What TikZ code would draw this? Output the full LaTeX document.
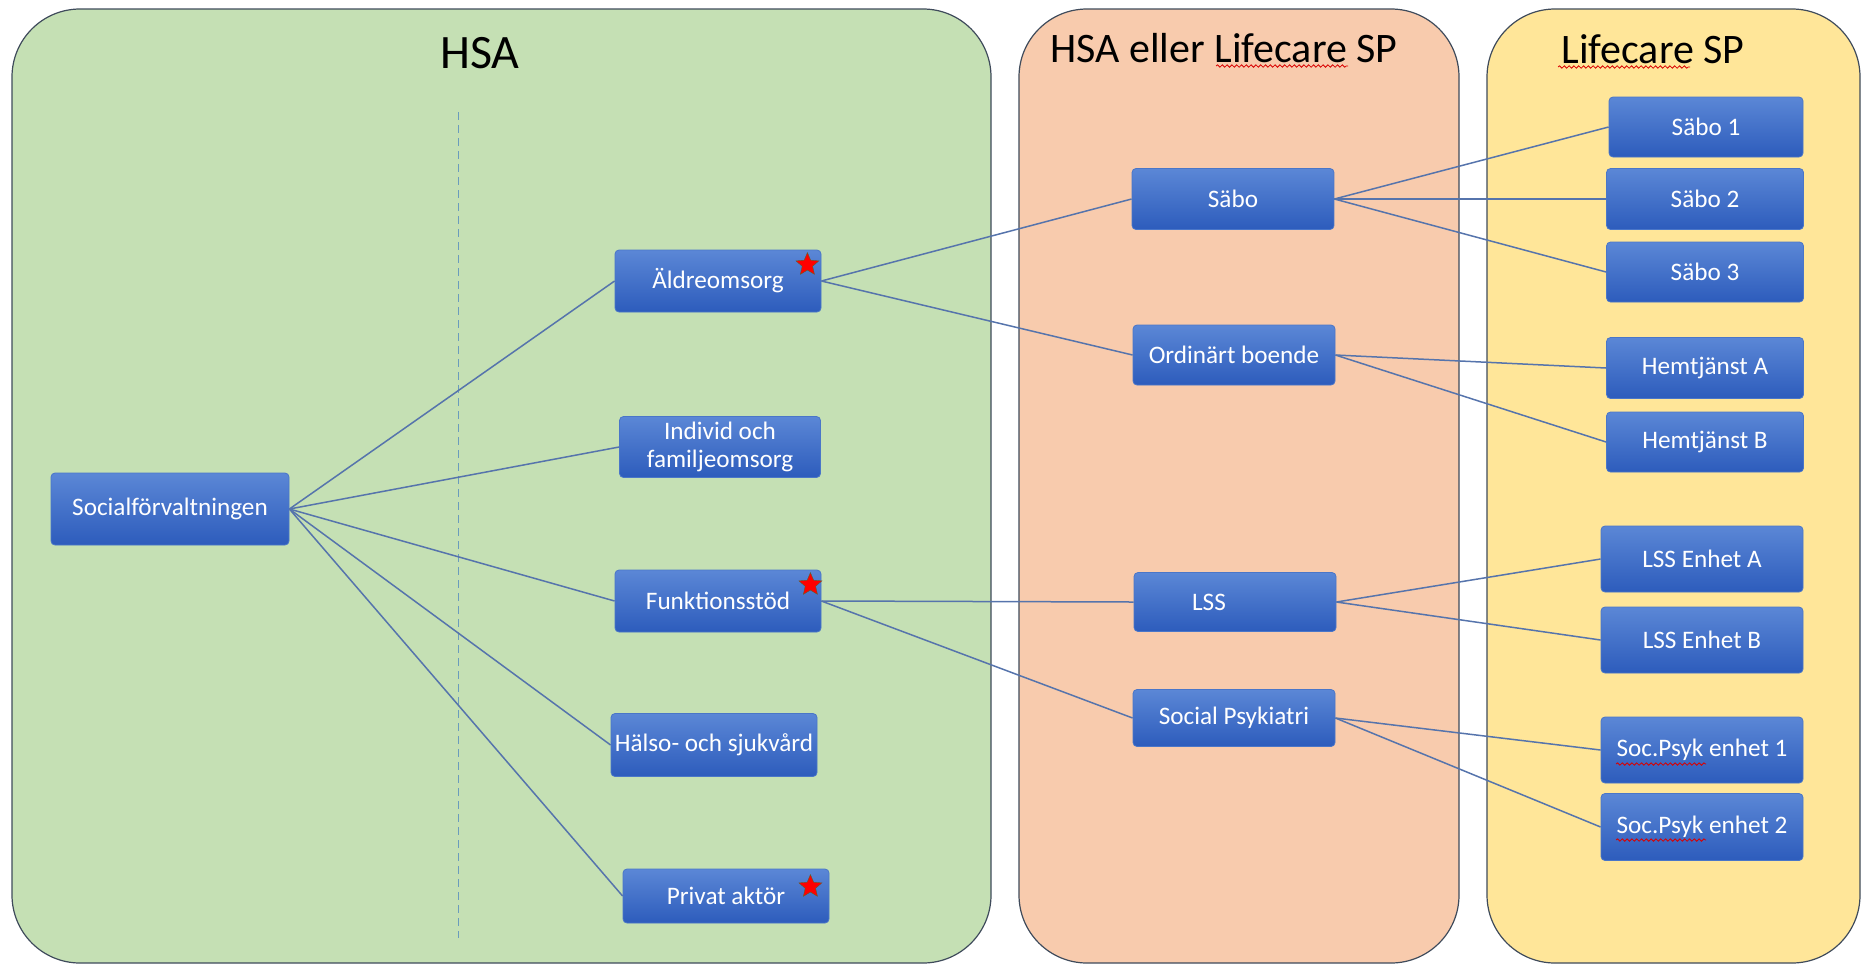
\documentclass[tikz,border=0pt]{standalone}
\usepackage{fontspec}
\setmainfont{Carlito}
\usetikzlibrary{shapes.geometric,decorations.pathmorphing}
\definecolor{hsagreen}{HTML}{C5E0B4}
\definecolor{eitherorange}{HTML}{F8CBAD}
\definecolor{lifeyellow}{HTML}{FFE699}
\definecolor{unittop}{HTML}{5B87D6}
\definecolor{unitbottom}{HTML}{2D5CBC}
\definecolor{unitedge}{HTML}{4A76C8}
\definecolor{panelline}{HTML}{3F4B5B}
\definecolor{linkblue}{HTML}{5674AC}
\definecolor{splitline}{HTML}{6A9CBC}
\tikzset{
  panel/.style={draw=panelline,line width=.6pt,rounded corners=34pt},
  unit/.style={draw=unitedge,line width=.4pt,rounded corners=2pt,
    top color=unittop,bottom color=unitbottom,text=white,align=center,
    font=\fontsize{12.6}{14}\selectfont,inner sep=1pt,
    minimum width=101pt,minimum height=30.5pt},
  link/.style={draw=linkblue,line width=.75pt},
  flag/.style={star,star points=5,star point ratio=2.2,fill=red,
    draw=olive!60!black,line width=.2pt,minimum size=12pt,inner sep=0pt},
  spell/.style={draw=red!85!black,line width=.4pt,decorate,
    decoration={snake,amplitude=.6pt,segment length=2.4pt}},
  title/.style={anchor=base,font=\fontsize{21}{25}\selectfont},
}

\begin{document}
\begin{tikzpicture}[x=0.5pt,y=-0.5pt]
\useasboundingbox (0,0) rectangle (1867,965);
% the three columns
\draw[panel,fill=hsagreen] (12,9) rectangle (991,963);
\draw[panel,fill=eitherorange] (1019,9) rectangle (1459,963);
\draw[panel,fill=lifeyellow] (1487,9) rectangle (1860,963);
\node[title,font=\fontsize{24}{28}\selectfont] (hsa) at (480,68) {HSA};
\node[title] (either) at (1224,62) {HSA eller Lifecare SP};
\node[title] (life) at (1653,63) {Lifecare SP};
\draw[splitline,line width=.5pt,dash pattern=on 4pt off 2.5pt] (458,112) -- (458,938);

% HSA
\node[unit,minimum width=119pt,minimum height=36pt] (soc) at (170,509) {Socialförvaltningen};
\node[unit,minimum width=103pt,minimum height=31pt] (aldre) at (718,281) {Äldreomsorg};
\node[unit,minimum width=100.5pt] (ifo) at (720,447) {Individ och\\familjeomsorg};
\node[unit,minimum width=103pt,minimum height=31pt] (funk) at (718,601) {Funktionsstöd};
\node[unit,minimum width=103pt,minimum height=31.5pt] (halso) at (714,745) {Hälso- och sjukvård};
\node[unit,minimum width=103pt,minimum height=27pt] (privat) at (726,896) {Privat aktör};

% HSA eller Lifecare SP
\node[unit] (sabo) at (1233,199) {Säbo};
\node[unit,minimum height=30pt] (ordin) at (1234,355) {Ordinärt boende};
\node[unit,minimum height=29.5pt] (lss) at (1235,602) {LSS\hspace*{26pt}};
\node[unit,minimum height=28.5pt] (socpsyk) at (1234,718) {Social Psykiatri};

% Lifecare SP
\foreach \nm/\x/\y/\w/\h/\txt in {
  sabo1/1706/127/97/30/Säbo 1, sabo2/1705/199/98.5/30.5/Säbo 2,
  sabo3/1705/272/98.5/30/Säbo 3, hemA/1705/368/98.5/30.5/Hemtjänst A,
  hemB/1705/442/98.5/30/Hemtjänst B, lssA/1702/559/101/33/LSS Enhet A,
  lssB/1702/640/101/33/LSS Enhet B, spA/1702/750/101/33/Soc.Psyk enhet 1,
  spB/1702/827/101/33.5/Soc.Psyk enhet 2}
  \node[unit,minimum width=\w pt,minimum height=\h pt] (\nm) at (\x,\y) {\txt};

% connectors
\foreach \dst in {aldre,ifo,funk,halso,privat}
  \draw[link] (soc.east) -- (\dst.west);
\foreach \src/\dst in {aldre/sabo, aldre/ordin, funk/lss, funk/socpsyk,
  sabo/sabo1, sabo/sabo2, sabo/sabo3, ordin/hemA, ordin/hemB,
  lss/lssA, lss/lssB, socpsyk/spA, socpsyk/spB}
  \draw[link] (\src.east) -- (\dst.west);

% stars
\foreach \nm/\dx/\dy in {aldre/-7/-7.5, funk/-5.5/-7.5, privat/-9.5/-9}
  \node[flag] (\nm-star) at ([xshift=\dx pt,yshift=\dy pt]\nm.north east) {};

% spelling marks
\draw[spell] (1216,66) -- (1348,66);
\draw[spell] (1558,67) -- (1690,67);
\draw[spell] (1616,764) -- (1706,764);
\draw[spell] (1616,840) -- (1706,840);
\end{tikzpicture}
\end{document}
